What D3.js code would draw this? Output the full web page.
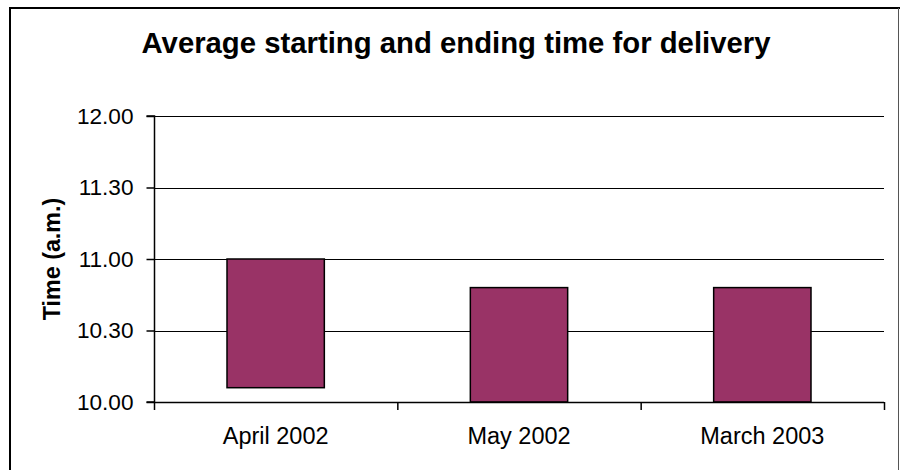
<!DOCTYPE html>
<html>
<head>
<meta charset="utf-8">
<script src="https://cdn.jsdelivr.net/npm/d3@7"></script>
<style>
  html, body { margin: 0; padding: 0; background: #fff; }
  svg { display: block; font-family: "Liberation Sans", Arial, sans-serif; }
</style>
</head>
<body>
<svg id="chart" width="900" height="470"></svg>
<script>
// Data: times expressed as minutes after midnight
const categories = ["April 2002", "May 2002", "March 2003"];
const startTimes = [606, 600, 600];   // 10.06, 10.00, 10.00
const endTimes   = [660, 648, 648];   // 11.00, 10.48, 10.48
const tickValues = [600, 630, 660, 690, 720];
const tickLabels = ["10.00", "10.30", "11.00", "11.30", "12.00"];

const svg = d3.select("#chart");
const W = 900, H = 470;
const plot = { left: 154, right: 884, top: 116, bottom: 402 };

// Outer frame
svg.append("line").attr("x1", 10).attr("x2", 10).attr("y1", 8).attr("y2", H)
  .attr("stroke", "#000").attr("stroke-width", 2);
svg.append("line").attr("x1", 9).attr("x2", W).attr("y1", 8).attr("y2", 8)
  .attr("stroke", "#000").attr("stroke-width", 2);
svg.append("line").attr("x1", 898.5).attr("x2", 898.5).attr("y1", 8).attr("y2", H)
  .attr("stroke", "#555").attr("stroke-width", 1);

const x = d3.scaleBand().domain(categories).range([plot.left, plot.right])
  .paddingInner(0.6).paddingOuter(0.3);
const xBand = d3.scaleBand().domain(categories).range([plot.left, plot.right]).padding(0);
const y = d3.scaleLinear().domain([600, 720]).range([plot.bottom, plot.top]);

// Gridlines
svg.append("g").selectAll("line").data(tickValues.slice(1)).join("line")
  .attr("x1", plot.left).attr("x2", plot.right)
  .attr("y1", d => Math.round(y(d)) + 0.5).attr("y2", d => Math.round(y(d)) + 0.5)
  .attr("stroke", "#000").attr("stroke-width", 1);

// Bars (floating)
svg.append("g").selectAll("rect").data(categories).join("rect")
  .attr("x", d => x(d))
  .attr("width", x.bandwidth())
  .attr("y", (d, i) => y(endTimes[i]))
  .attr("height", (d, i) => y(startTimes[i]) - y(endTimes[i]))
  .attr("fill", "#993366")
  .attr("stroke", "#000").attr("stroke-width", 1.5);

// Y axis
const yAxis = d3.axisLeft(y).tickValues(tickValues)
  .tickFormat((d, i) => tickLabels[i]).tickSize(8).tickPadding(13);
const gy = svg.append("g").attr("transform", `translate(${plot.left + 0.5},0)`).call(yAxis);
gy.select(".domain").attr("stroke", "#000").attr("stroke-width", 1.5)
  .attr("d", `M-8,${y(720)}H0V${y(600)}H-8`);
gy.selectAll(".tick line").attr("stroke", "#000").attr("stroke-width", 1.5);
gy.selectAll(".tick text").attr("font-size", "22.6px").attr("fill", "#000")
  .attr("font-family", "Liberation Sans, Arial, sans-serif");

// X axis baseline and ticks at band boundaries
const boundaries = categories.map(c => xBand(c)).concat([plot.right]);
svg.append("line").attr("x1", plot.left).attr("x2", plot.right)
  .attr("y1", plot.bottom + 0.5).attr("y2", plot.bottom + 0.5)
  .attr("stroke", "#000").attr("stroke-width", 1.5);
svg.append("g").selectAll("line").data(boundaries).join("line")
  .attr("x1", d => d + 0.5).attr("x2", d => d + 0.5)
  .attr("y1", plot.bottom).attr("y2", plot.bottom + 8)
  .attr("stroke", "#000").attr("stroke-width", 1.5);
svg.append("g").selectAll("text").data(categories).join("text")
  .attr("x", d => xBand(d) + xBand.bandwidth() / 2)
  .attr("y", 443.5)
  .attr("text-anchor", "middle")
  .attr("font-size", "23.5px")
  .attr("fill", "#000")
  .text(d => d);

// Title
svg.append("text").attr("x", 456).attr("y", 53).attr("text-anchor", "middle")
  .attr("font-size", "29.3px").attr("font-weight", "bold").attr("fill", "#000")
  .text("Average starting and ending time for delivery");

// Y axis label
svg.append("text")
  .attr("transform", `translate(59.5,259) rotate(-90)`)
  .attr("text-anchor", "middle")
  .attr("font-size", "23.3px").attr("font-weight", "bold").attr("fill", "#000")
  .text("Time (a.m.)");
</script>
</body>
</html>
